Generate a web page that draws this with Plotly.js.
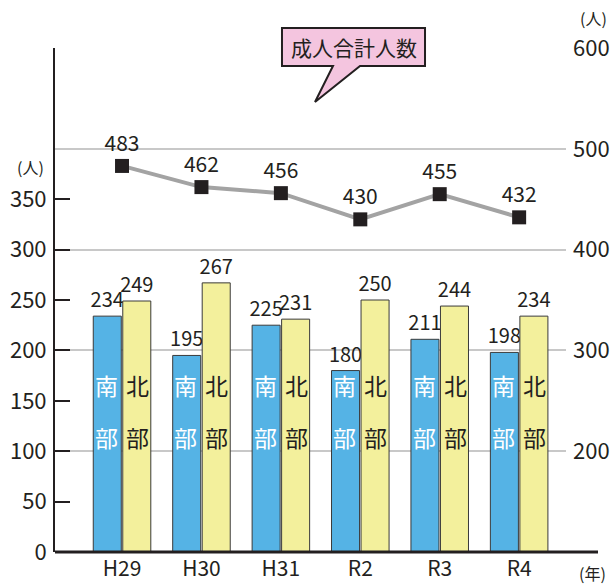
<!DOCTYPE html>
<html><head><meta charset="utf-8">
<script src="https://cdn.plot.ly/plotly-3.0.1.min.js"></script>
<style>body{margin:0;background:#fff}#c{width:611px;height:587px}</style>
</head><body><div id="c"></div>
<script>
const years = ["H29","H30","H31","R2","R3","R4"];
const south = [234,195,225,180,211,198];
const north = [249,267,231,250,244,234];
const total = [483,462,456,430,455,432];
const leftTicks = [0,50,100,150,200,250,300,350];
const rightTicks = [200,300,400,500,600];
const calloutText = "成人合計人数";
const southLabel = ["南","部"];
const northLabel = ["北","部"];

const FONT = "Noto Sans CJK JP, Noto Sans, sans-serif";
const TXT = "#231f20";
// plot area in px: x 55..566, y 48..552
const L = 55, R = 566, T = 48, B = 552;
const px = x => (x - L) / (R - L);
const py = y => (B - y) / (B - T);

const traces = [
  {type:"bar", x:years, y:south, name:"南部", marker:{color:"#55b3e5", line:{color:"#3a3a3a", width:1}},
   text:south.map(String), textposition:"outside", constraintext:"none", cliponaxis:false,
   textfont:{size:20, color:TXT, family:FONT}},
  {type:"bar", x:years, y:north, name:"北部", marker:{color:"#f3f09c", line:{color:"#3a3a3a", width:1}},
   text:north.map(String), textposition:"outside", constraintext:"none", cliponaxis:false,
   textfont:{size:20, color:TXT, family:FONT}},
  {type:"scatter", x:years, y:total, yaxis:"y2", mode:"lines+markers+text",
   line:{color:"#a3a3a3", width:4}, marker:{symbol:"square", size:14, color:"#231f20"},
   text:total.map(String), textposition:"top center", cliponaxis:false,
   textfont:{size:21, color:TXT, family:FONT}}
];

const annotations = [];
years.forEach(y => {
  [0,1].forEach(k => {
    annotations.push({xref:"x", yref:"y", x:y, y:k===0?166:114, xshift:-15.5, text:southLabel[k], showarrow:false,
      xanchor:"center", yanchor:"middle", font:{size:23, color:"#ffffff", family:FONT}});
    annotations.push({xref:"x", yref:"y", x:y, y:k===0?166:114, xshift:15.5, text:northLabel[k], showarrow:false,
      xanchor:"center", yanchor:"middle", font:{size:23, color:TXT, family:FONT}});
  });
});
const pa = (x,y,text,size) => ({xref:"paper", yref:"paper", x:px(x), y:py(y), text:text, showarrow:false,
  xanchor:"center", yanchor:"middle", font:{size:size, color:TXT, family:FONT}});
annotations.push(pa(353.5, 47, calloutText, 21));
annotations.push(pa(30, 167, "(人)", 16));
annotations.push(pa(593, 18, "(人)", 16));
annotations.push(pa(592, 573, "(年)", 16));

const calloutPath = [
  [282,28],[425,28],[425,66],[360,66],[315,102],[333,66],[282,66]
].map((p,i)=> (i===0?"M":"L") + px(p[0]).toFixed(4) + "," + py(p[1]).toFixed(4)).join(" ") + " Z";

const shapes = [
  {type:"path", xref:"paper", yref:"paper", path:calloutPath, fillcolor:"#f4c5df", line:{color:"#231f20", width:2}, layer:"above"},
  {type:"line", xref:"paper", yref:"paper", x0:0, x1:px(598), y0:0, y1:0, line:{color:"#231f20", width:3}, layer:"above"}
];

const layout = {
  width:611, height:587,
  margin:{l:L, r:611-R, t:T, b:587-B},
  paper_bgcolor:"#fff", plot_bgcolor:"#fff",
  showlegend:false,
  barmode:"group", bargap:0.257, bargroupgap:0.05,
  font:{family:FONT, color:TXT},
  xaxis:{type:"category", range:[-0.844, 5.59], showgrid:false, showline:false, ticks:"", zeroline:false,
    tickfont:{size:21, color:TXT, family:FONT}, ticklabelstandoff:2},
  yaxis:{range:[0,500], tickvals:leftTicks, ticks:"inside", ticklen:15, tickwidth:2, tickcolor:"#231f20",
    showline:true, linewidth:2, linecolor:"#231f20", showgrid:false, zeroline:false,
    tickfont:{size:22, color:TXT, family:FONT}, ticklabelstandoff:2},
  yaxis2:{range:[100,600], overlaying:"y", side:"right", tickvals:rightTicks, ticks:"", showline:false,
    showgrid:true, gridcolor:"#c8c8c8", gridwidth:2, zeroline:false,
    tickfont:{size:22, color:TXT, family:FONT}, ticklabelstandoff:6},
  annotations:annotations, shapes:shapes
};
Plotly.newPlot("c", traces, layout, {displayModeBar:false, staticPlot:true});
</script></body></html>
